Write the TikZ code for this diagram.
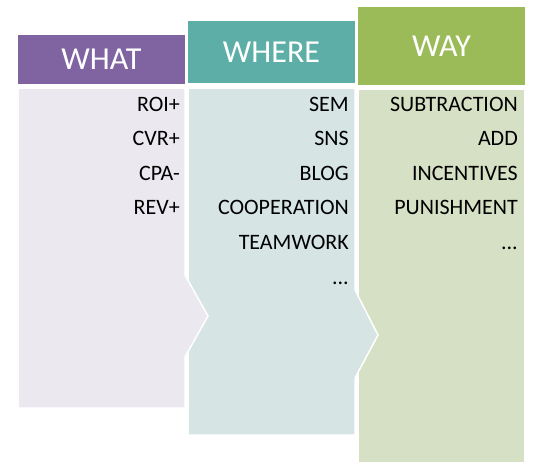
\documentclass[tikz,border=0pt]{standalone}
\usepackage{fontspec}
\setmainfont{Carlito}
\usetikzlibrary{calc}
\definecolor{whathead}{HTML}{8064A2}
\definecolor{wherehead}{HTML}{5DAEA6}
\definecolor{wayhead}{HTML}{9BBB59}
\definecolor{whatbg}{HTML}{ECE8EF}
\definecolor{wherebg}{HTML}{D6E4E4}
\definecolor{waybg}{HTML}{D6E0C4}
\newcommand{\moredots}{...}
\tikzstyle{head}=[rectangle, inner sep=0pt, text=white, minimum width=167pt, font=\fontsize{32}{32}\selectfont]
\tikzstyle{body}=[draw=white, line width=1.5pt, line join=miter]
\tikzstyle{item}=[anchor=base east, inner sep=0pt, font=\fontsize{22}{22}\selectfont]

\begin{document}
\begin{tikzpicture}[x=1pt,y=-1pt]
\useasboundingbox (0,0) rectangle (537,474);
\filldraw[body, fill=waybg] (358,89) rectangle (525,463);
\filldraw[body, fill=wherebg] (188,88) -- (355,88) -- (355,290) -- (378,335) -- (355,378) -- (355,435) -- (188,435) -- cycle;
\filldraw[body, fill=whatbg] (18,88) -- (185,88) -- (185,275) -- (208,316) -- (185,357) -- (185,408) -- (18,408) -- cycle;
\node[head, fill=whathead, minimum height=49pt] (what) at (101.5,59.5) {WHAT};
\node[head, fill=wherehead, minimum height=62pt] (where) at (271.5,52) {WHERE};
\node[head, fill=wayhead, minimum height=78pt] (way) at (441.5,46) {WAY};
\foreach \t [count=\i from 0] in {ROI+,CVR+,CPA-,REV+} {
	\node[item] (what\i) at (180,{111+34.6*\i}) {\t};
}
\foreach \t [count=\i from 0] in {SEM,SNS,BLOG,COOPERATION,TEAMWORK,\moredots} {
	\node[item] (where\i) at (349,{111+34.6*\i}) {\t};
}
\foreach \t [count=\i from 0] in {SUBTRACTION,ADD,INCENTIVES,PUNISHMENT,\moredots} {
	\node[item] (way\i) at (518,{111+34.6*\i}) {\t};
}
\end{tikzpicture}
\end{document}
